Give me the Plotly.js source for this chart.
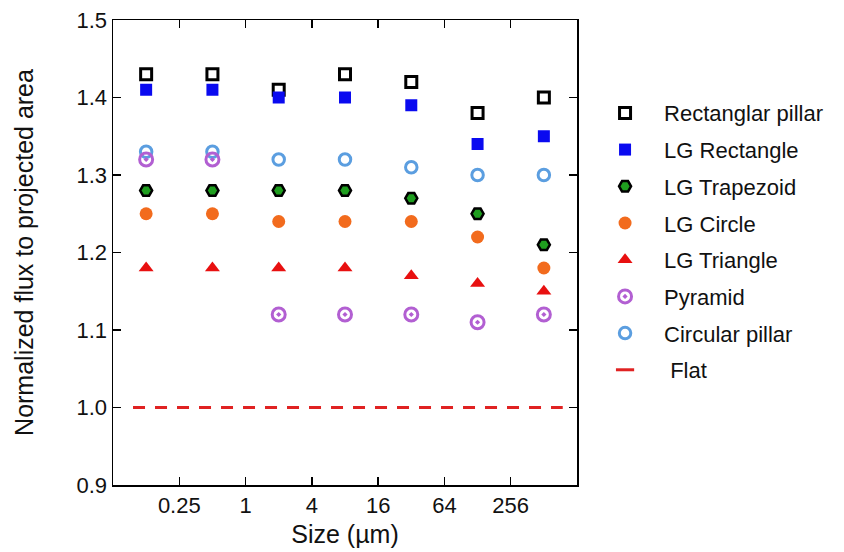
<!DOCTYPE html>
<html>
<head>
<meta charset="utf-8">
<script src="https://cdn.plot.ly/plotly-3.0.1.min.js"></script>
<style>
  html, body { margin: 0; padding: 0; background: #ffffff; }
  #chart { width: 844px; height: 552px; }
</style>
</head>
<body>
<div id="chart"></div>
<script>
// Feature size (µm), log2-spaced
const sizes = [0.125, 0.5, 2, 8, 32, 128, 512];

// Normalized flux to projected area for each geometry
const rectPillar     = [1.43, 1.43, 1.41, 1.43, 1.42, 1.38, 1.40];
const lgRectangle    = [1.41, 1.41, 1.40, 1.40, 1.39, 1.34, 1.35];
const lgTrapezoid    = [1.28, 1.28, 1.28, 1.28, 1.27, 1.25, 1.21];
const lgCircle       = [1.25, 1.25, 1.24, 1.24, 1.24, 1.22, 1.18];
const lgTriangle     = [1.18, 1.18, 1.18, 1.18, 1.17, 1.16, 1.15];
const pyramid        = [1.32, 1.32, 1.12, 1.12, 1.12, 1.11, 1.12];
const circularPillar = [1.33, 1.33, 1.32, 1.32, 1.31, 1.30, 1.30];

// Flat reference level
const flatX = [0.095, 760];
const flatY = [1.0, 1.0];

const xTicks = [0.25, 1, 4, 16, 64, 256];
const xTickText = ['0.25', '1', '4', '16', '64', '256'];

const FONT = 'Liberation Sans, Arial, Helvetica, sans-serif';

function series(name, y, marker, rank) {
  return {
    type: 'scatter', mode: 'markers', name: name,
    x: sizes, y: y, marker: marker,
    legendgroup: name, legendrank: rank, cliponaxis: false
  };
}

const traces = [
  {
    type: 'scatter', mode: 'lines', name: 'Flat',
    x: flatX, y: flatY, showlegend: false, legendgroup: 'flat',
    line: { color: '#e02222', width: 3, dash: '12px,10px' }
  },
  series('Rectanglar pillar', rectPillar,
    { symbol: 'square-open', size: 11, color: '#000000', line: { width: 3, color: '#000000' } }, 1),
  series('LG Rectangle', lgRectangle,
    { symbol: 'square', size: 12, color: '#0a0af0', line: { width: 0 } }, 2),
  series('LG Trapezoid', lgTrapezoid,
    { symbol: 'hexagon2', size: 12, color: '#1f9e1f', line: { width: 2.5, color: '#000000' } }, 3),
  series('LG Circle', lgCircle,
    { symbol: 'circle', size: 13, color: '#f26b1d', line: { width: 0 } }, 4),
  series('LG Triangle', lgTriangle,
    { symbol: 'triangle-up', size: 13, color: '#e81010', line: { width: 0 } }, 5),
  series('Circular pillar', circularPillar,
    { symbol: 'circle-open', size: 11.5, color: '#5b9ee0', line: { width: 3, color: '#5b9ee0' } }, 7),
  series('Pyramid', pyramid,
    { symbol: 'circle-open-dot', size: 13, color: '#b25fd2', line: { width: 3, color: '#b25fd2' } }, 6),
  {
    // legend key for the flat reference line
    type: 'scatter', mode: 'markers', name: '\u00a0Flat',
    x: [null], y: [null], legendgroup: 'flat', legendrank: 8,
    marker: { symbol: 'line-ew-open', size: 13, color: '#e02222', line: { width: 3, color: '#e02222' } }
  }
];

const layout = {
  width: 844, height: 552,
  paper_bgcolor: '#ffffff', plot_bgcolor: '#ffffff',
  margin: { l: 113, r: 267, t: 20, b: 67, pad: 0 },
  font: { family: FONT, size: 22, color: '#111111' },
  showlegend: true,
  legend: {
    x: 1.0195, xanchor: 'left', y: 0.845, yanchor: 'top',
    traceorder: 'grouped', tracegroupgap: 5.1, itemwidth: 68,
    font: { family: FONT, size: 22, color: '#111111' },
    bgcolor: 'rgba(0,0,0,0)', borderwidth: 0
  },
  xaxis: {
    type: 'log',
    range: [Math.log10(1 / 16), Math.log10(1024)],
    tickmode: 'array', tickvals: xTicks, ticktext: xTickText,
    ticks: 'inside', ticklen: 8, tickwidth: 1.5, tickcolor: '#000000',
    showline: true, linecolor: '#000000', linewidth: 1.5, mirror: 'ticks',
    showgrid: false, zeroline: false,
    tickfont: { family: FONT, size: 22, color: '#111111' },
    title: { text: 'Size (\u00b5m)', font: { family: FONT, size: 25, color: '#111111' }, standoff: 8 },
    automargin: false
  },
  yaxis: {
    range: [0.9, 1.5],
    tickmode: 'array', tickvals: [0.9, 1.0, 1.1, 1.2, 1.3, 1.4, 1.5],
    ticktext: ['0.9', '1.0', '1.1', '1.2', '1.3', '1.4', '1.5'],
    ticks: 'inside', ticklen: 8, tickwidth: 1.5, tickcolor: '#000000',
    showline: true, linecolor: '#000000', linewidth: 1.5, mirror: 'ticks',
    showgrid: false, zeroline: false,
    tickfont: { family: FONT, size: 22, color: '#111111' },
    title: { text: 'Normalized flux to projected area', font: { family: FONT, size: 25, color: '#111111' }, standoff: 36 },
    automargin: false
  }
};

Plotly.newPlot('chart', traces, layout, { staticPlot: true, displayModeBar: false });
</script>
</body>
</html>
